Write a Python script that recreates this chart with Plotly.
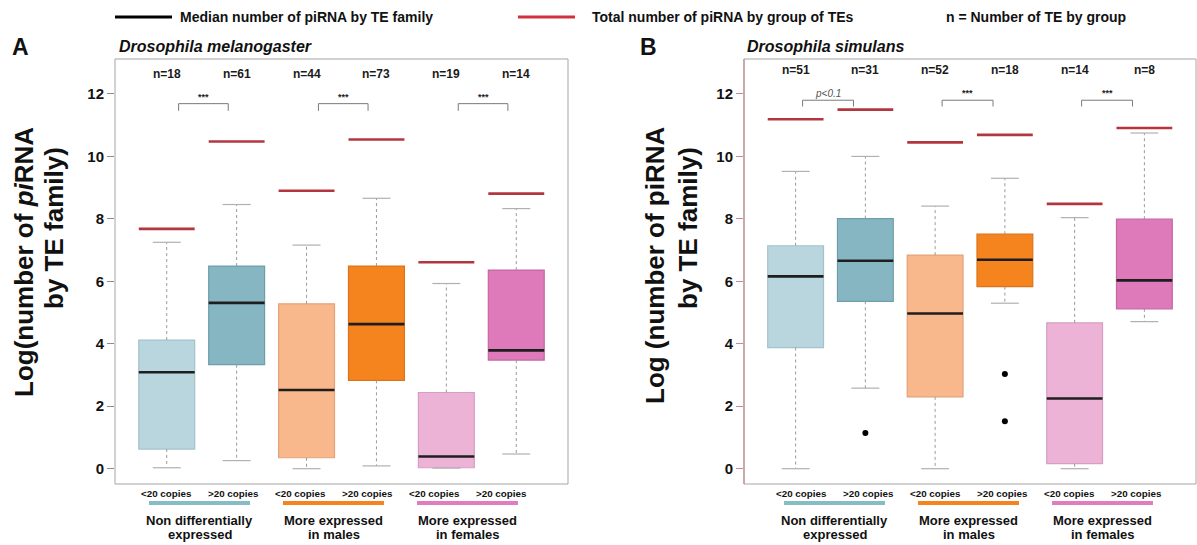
import plotly.graph_objects as go

# ---- data -------------------------------------------------------------
copy_classes = ["<20 copies", ">20 copies"]
groups = [["Non differentially", "expressed"],
          ["More expressed", "in males"],
          ["More expressed", "in females"]]

# Drosophila melanogaster (log number of piRNA by TE family)
mel_n = [18, 61, 44, 73, 19, 14]
mel_low = [0.03, 0.26, 0.0, 0.09, 0.02, 0.47]
mel_q1 = [0.63, 3.33, 0.35, 2.83, 0.03, 3.48]
mel_median = [3.09, 5.31, 2.52, 4.63, 0.39, 3.79]
mel_q3 = [4.12, 6.49, 5.28, 6.49, 2.44, 6.36]
mel_high = [7.25, 8.46, 7.16, 8.66, 5.93, 8.33]
mel_total = [7.68, 10.48, 8.90, 10.54, 6.61, 8.81]
mel_outliers = [[], [], [], [], [], []]
mel_signif = ["***", "***", "***"]

# Drosophila simulans
sim_n = [51, 31, 52, 18, 14, 8]
sim_low = [0.0, 2.58, 0.0, 5.30, 0.0, 4.71]
sim_q1 = [3.88, 5.36, 2.30, 5.83, 0.16, 5.12]
sim_median = [6.16, 6.66, 4.97, 6.69, 2.25, 6.03]
sim_q3 = [7.14, 8.01, 6.84, 7.51, 4.67, 7.99]
sim_high = [9.52, 10.0, 8.41, 9.30, 8.04, 10.75]
sim_total = [11.19, 11.50, 10.45, 10.69, 8.48, 10.91]
sim_outliers = [[], [1.14], [], [3.03, 1.52], [], []]
sim_signif = ["p<0.1", "***", "***"]

y_ticks = [0, 2, 4, 6, 8, 10, 12]

# ---- styling ----------------------------------------------------------
W, H = 1197, 545
FONT = "Liberation Sans, Arial, sans-serif"
fills = ["#b9d6df", "#87b6c3", "#f8b88c", "#f5841f", "#edb3d7", "#de7ab9"]
borders = ["#a3c2cb", "#6f9eab", "#e3a27a", "#d9741c", "#d69fc2", "#c467a3"]
group_colors = ["#86bcc6", "#f5841f", "#e07dc0"]
RED = "#b3363f"
LEGEND_RED = "#d1313d"
WHISKER = "#9a9a9a"
FRAME = "#a5a5a5"


def px(x):
    return x / W


def py(y):
    return 1 - y / H


Y_RANGE = [-0.49, 13.12]
Y_DOMAIN = [py(484), py(59)]

fig = go.Figure()

panels = [
    dict(xa="x", ya="y", n=mel_n, low=mel_low, q1=mel_q1, med=mel_median,
         q3=mel_q3, high=mel_high, total=mel_total, out=mel_outliers,
         sig=mel_signif, x_dom=[px(115), px(568)], n_y=12.64,
         br=(0.17, 0.88), br_lo=11.46, br_hi=11.69, sig_y=11.91,
         label_x0=166, letter="A", letter_x=20,
         title="Drosophila melanogaster", title_x=117,
         ytitle=["Log(number of <i>pi</i>RNA", "by TE family)"],
         ytitle_pos=[(24, 262), (54, 228)], tickcolor="#8c8c8c"),
    dict(xa="x2", ya="y2", n=sim_n, low=sim_low, q1=sim_q1, med=sim_median,
         q3=sim_q3, high=sim_high, total=sim_total, out=sim_outliers,
         sig=sim_signif, x_dom=[px(744), px(1196)], n_y=12.77,
         br=(0.10, 0.83), br_lo=11.60, br_hi=11.80, sig_y=12.02,
         label_x0=801, letter="B", letter_x=648,
         title="Drosophila simulans", title_x=745,
         ytitle=["Log (number of piRNA", "by TE family)"],
         ytitle_pos=[(655, 265), (688, 228)], tickcolor="#c98a8e"),
]

annotations = []
shapes = []

for p in panels:
    pos = list(range(1, len(p["n"]) + 1))
    xa, ya = p["xa"], p["ya"]

    # whiskers (dotted) and caps
    wx, wy, cx, cy = [], [], [], []
    for i, x in enumerate(pos):
        wx += [x, x, None, x, x, None]
        wy += [p["q3"][i], p["high"][i], None, p["q1"][i], p["low"][i], None]
        cx += [x - 0.2, x + 0.2, None, x - 0.2, x + 0.2, None]
        cy += [p["high"][i], p["high"][i], None, p["low"][i], p["low"][i], None]
    fig.add_trace(go.Scatter(x=wx, y=wy, mode="lines", xaxis=xa, yaxis=ya,
                             line=dict(color=WHISKER, width=1, dash="dot"),
                             hoverinfo="skip", showlegend=False))
    fig.add_trace(go.Scatter(x=cx, y=cy, mode="lines", xaxis=xa, yaxis=ya,
                             line=dict(color="#b0b0b0", width=1.2),
                             hoverinfo="skip", showlegend=False))

    # boxes (interquartile range)
    fig.add_trace(go.Bar(
        x=pos, base=p["q1"],
        y=[hi - lo for lo, hi in zip(p["q1"], p["q3"])],
        width=0.8, xaxis=xa, yaxis=ya, showlegend=False,
        marker=dict(color=fills, line=dict(color=borders, width=1.2))))

    # medians
    mx, my = [], []
    for i, x in enumerate(pos):
        mx += [x - 0.4, x + 0.4, None]
        my += [p["med"][i], p["med"][i], None]
    fig.add_trace(go.Scatter(x=mx, y=my, mode="lines", xaxis=xa, yaxis=ya,
                             line=dict(color="#1e1e1e", width=2.6),
                             showlegend=False))

    # total piRNA per group of TEs
    tx, ty = [], []
    for i, x in enumerate(pos):
        tx += [x - 0.4, x + 0.4, None]
        ty += [p["total"][i], p["total"][i], None]
    fig.add_trace(go.Scatter(x=tx, y=ty, mode="lines", xaxis=xa, yaxis=ya,
                             line=dict(color=RED, width=2.6),
                             showlegend=False))

    # outliers
    ox, oy = [], []
    for i, x in enumerate(pos):
        for v in p["out"][i]:
            ox.append(x)
            oy.append(v)
    if ox:
        fig.add_trace(go.Scatter(x=ox, y=oy, mode="markers", xaxis=xa, yaxis=ya,
                                 marker=dict(color="black", size=6),
                                 showlegend=False))

    # significance brackets
    bx, by = [], []
    for g, s in enumerate(p["sig"]):
        a = 2 * g + 1 + p["br"][0]
        b = 2 * g + 1 + p["br"][1]
        bx += [a, a, b, b, None]
        by += [p["br_lo"], p["br_hi"], p["br_hi"], p["br_lo"], None]
        italic = not s.startswith("*")
        annotations.append(dict(
            x=(a + b) / 2, y=p["sig_y"], xref=xa, yref=ya,
            text=f"<i>{s}</i>" if italic else f"<b>{s}</b>",
            showarrow=False, yanchor="middle",
            font=dict(family=FONT, size=10 if italic else 9,
                      color="#555555" if italic else "#222222")))
    fig.add_trace(go.Scatter(x=bx, y=by, mode="lines", xaxis=xa, yaxis=ya,
                             line=dict(color="#7a7a7a", width=1),
                             hoverinfo="skip", showlegend=False))

    # n labels
    for i, x in enumerate(pos):
        annotations.append(dict(
            x=x, y=p["n_y"], xref=xa, yref=ya, text=f"<b>n={p['n'][i]}</b>",
            showarrow=False, yanchor="middle",
            font=dict(family=FONT, size=12, color="#1a1a1a")))

    # frame around the plotting region
    shapes.append(dict(type="rect", xref=f"{xa} domain", yref=f"{ya} domain",
                       x0=0, x1=1, y0=0, y1=1,
                       line=dict(color=FRAME, width=1)))
    if xa == "x2":
        shapes.append(dict(type="line", xref=f"{xa} domain", yref=f"{ya} domain",
                           x0=0, x1=0, y0=0, y1=1,
                           line=dict(color=p["tickcolor"], width=1.2)))

    # copy-number labels, group colour bars and group names
    for i in range(len(pos)):
        lx = p["label_x0"] + 67 * i
        annotations.append(dict(
            x=px(lx), y=py(493), xref="paper", yref="paper",
            text=f"<b>{copy_classes[i % 2]}</b>", showarrow=False,
            xanchor="center", yanchor="middle",
            font=dict(family=FONT, size=9.8, color="#111111")))
    for g in range(3):
        gc = p["label_x0"] + 67 * (2 * g) + 33.5
        shapes.append(dict(type="line", xref="paper", yref="paper",
                           x0=px(gc - 50.5), x1=px(gc + 50.5),
                           y0=py(503), y1=py(503),
                           line=dict(color=group_colors[g], width=4)))
        for k, line in enumerate(groups[g]):
            annotations.append(dict(
                x=px(gc), y=py(520 + 14.5 * k), xref="paper", yref="paper",
                text=f"<b>{line}</b>", showarrow=False,
                xanchor="center", yanchor="middle",
                font=dict(family=FONT, size=13, color="#111111")))

    # panel letter and species title
    annotations.append(dict(
        x=px(p["letter_x"]), y=py(47), xref="paper", yref="paper",
        text=f"<b>{p['letter']}</b>", showarrow=False,
        xanchor="center", yanchor="middle",
        font=dict(family=FONT, size=23, color="#111111")))
    annotations.append(dict(
        x=px(p["title_x"]), y=py(46), xref="paper", yref="paper",
        text=f"<b><i>{p['title']}</i></b>", showarrow=False,
        xanchor="left", yanchor="middle",
        font=dict(family=FONT, size=16, color="#111111")))

    # y-axis title (two rotated lines)
    for text, (tx_, ty_) in zip(p["ytitle"], p["ytitle_pos"]):
        annotations.append(dict(
            x=px(tx_), y=py(ty_), xref="paper", yref="paper",
            text=f"<b>{text}</b>", showarrow=False, textangle=-90,
            xanchor="center", yanchor="middle",
            font=dict(family=FONT, size=26, color="#111111")))

# ---- legend across the top ---------------------------------------------
shapes.append(dict(type="line", xref="paper", yref="paper",
                   x0=px(115), x1=px(172), y0=py(17), y1=py(17),
                   line=dict(color="black", width=3)))
shapes.append(dict(type="line", xref="paper", yref="paper",
                   x0=px(518), x1=px(575), y0=py(17), y1=py(17),
                   line=dict(color=LEGEND_RED, width=3)))
for text, cx in [("Median number of piRNA by TE family", 306),
                 ("Total number of piRNA by group of TEs", 723),
                 ("n = Number of TE by group", 1036)]:
    annotations.append(dict(
        x=px(cx), y=py(17), xref="paper", yref="paper",
        text=f"<b>{text}</b>", showarrow=False,
        xanchor="center", yanchor="middle",
        font=dict(family=FONT, size=14, color="#111111")))

axis_common = dict(showgrid=False, zeroline=False, showline=False)
fig.update_layout(
    width=W, height=H,
    margin=dict(l=0, r=0, t=0, b=0),
    paper_bgcolor="white", plot_bgcolor="white",
    showlegend=False,
    xaxis=dict(domain=panels[0]["x_dom"], range=[0.26, 6.74], anchor="y",
               showticklabels=False, ticks="", **axis_common),
    yaxis=dict(domain=Y_DOMAIN, range=Y_RANGE, anchor="x",
               tickvals=y_ticks, ticks="outside", ticklen=7,
               tickcolor=panels[0]["tickcolor"],
               tickfont=dict(family=FONT, size=15, color="#111111",
                             weight="bold"),
               **axis_common),
    xaxis2=dict(domain=panels[1]["x_dom"], range=[0.26, 6.74], anchor="y2",
                showticklabels=False, ticks="", **axis_common),
    yaxis2=dict(domain=Y_DOMAIN, range=Y_RANGE, anchor="x2",
                tickvals=y_ticks, ticks="outside", ticklen=7,
                tickcolor=panels[1]["tickcolor"],
                tickfont=dict(family=FONT, size=15, color="#111111",
                              weight="bold"),
                **axis_common),
    shapes=shapes,
    annotations=annotations,
)

fig.write_html("out.html")
